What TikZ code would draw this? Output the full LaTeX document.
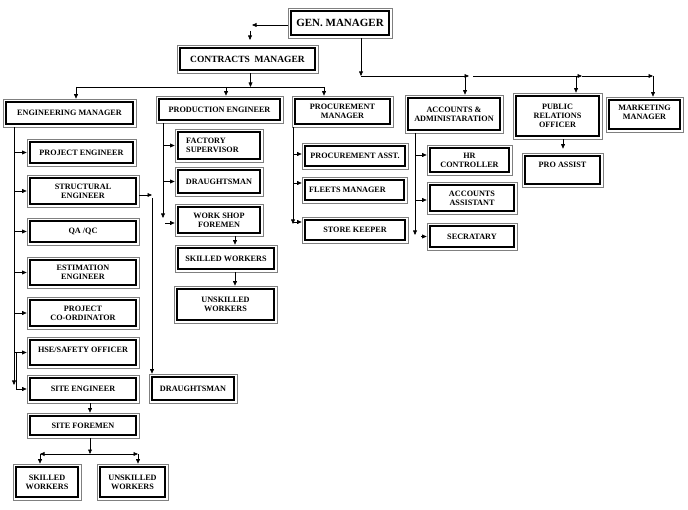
\documentclass[tikz,border=0pt]{standalone}
\usepackage{fontspec}
\setmainfont{Liberation Serif}
\usetikzlibrary{arrows.meta}
\tikzset{
 ebox/.style={draw=black!50, line width=0.6pt, fill=white, inner sep=0pt,
   path picture={\draw[draw=black, line width=2.5pt] ([shift={(2.8pt,2.8pt)}]path picture bounding box.south west) rectangle ([shift={(-2.8pt,-2.8pt)}]path picture bounding box.north east);}},
 lbl/.style={font=\fontsize{8.2}{9}\selectfont\bfseries, align=center, inner sep=0pt},
 arr/.style={-{Triangle[length=4.5pt,width=3.8pt]}, line width=0.7pt},
 ln/.style={line width=0.7pt}
}
\newcommand\obox[7][]{%
 \node[ebox, minimum width={(#5-#3)*1pt}, minimum height={(#6-#4)*1pt}] (#2) at ({(#3+#5)/2},{(#4+#6)/2}) {};
 \node[lbl,#1] (#2-t) at (#2.center) {#7};}
\begin{document}
\begin{tikzpicture}[x=1pt,y=-1pt]
\fill[white] (0,0) rectangle (688,510);
\useasboundingbox (0,0) rectangle (688,510);
% boxes
\obox[font=\fontsize{11}{13}\selectfont\bfseries]{GM}{288}{8}{392}{38}{GEN. MANAGER}
\obox[font=\fontsize{9.5}{11}\selectfont\bfseries]{CM}{177}{45}{318}{73}{CONTRACTS\ \ MANAGER}
\obox{EM}{3}{99}{136}{127}{ENGINEERING MANAGER}
\obox{PE}{156}{96}{283}{123}{PRODUCTION ENGINEER}
\obox{PM}{292}{96}{393}{127}{PROCUREMENT\\MANAGER}
\obox{AA}{405}{95}{503}{133}{ACCOUNTS \&\\ADMINISTARATION}
\obox{PR}{513}{93}{602}{139}{PUBLIC\\RELATIONS\\OFFICER}
\obox[yshift=2pt]{MM}{606}{97}{683}{132}{MARKETING\\MANAGER}
\obox{PJ}{27}{139}{136}{166}{PROJECT ENGINEER}
\obox{ST}{27}{175}{139}{207}{STRUCTURAL\\ENGINEER}
\obox{QA}{27}{218}{139}{245}{QA /QC}
\obox{ES}{27}{257}{139}{288}{ESTIMATION\\ENGINEER}
\obox{PC}{27}{297}{139}{329}{PROJECT\\CO-ORDINATOR}
\obox[yshift=3pt]{HSE}{27}{337}{139}{368}{HSE/SAFETY OFFICER}
\obox{SE}{27}{375}{139}{403}{SITE ENGINEER}
\obox{SF}{27}{413}{139}{438}{SITE FOREMEN}
\obox{SW}{13}{464}{81}{500}{SKILLED\\WORKERS}
\obox{UW}{97}{464}{168}{500}{UNSKILLED\\WORKERS}
\obox{DRB}{149}{374}{237}{403}{DRAUGHTSMAN}
\obox[align=left,xshift=-6.5pt]{FS}{175}{129}{263}{162}{FACTORY\\SUPERVISOR}
\obox{DR}{175}{167}{263}{196}{DRAUGHTSMAN}
\obox{WS}{175}{204}{263}{236}{WORK SHOP\\FOREMEN}
\obox{SK}{175}{245}{277}{272}{SKILLED WORKERS}
\obox{UN}{174}{286}{277}{323}{UNSKILLED\\WORKERS}
\obox{PA}{302}{143}{408}{169}{PROCUREMENT ASST.}
\obox[xshift=-7pt]{FM}{302}{177}{407}{203}{FLEETS MANAGER}
\obox{SKP}{302}{217}{408}{243}{STORE KEEPER}
\obox{HR}{427}{145}{512}{175}{HR\\CONTROLLER}
\obox{AS}{427}{182}{517}{214}{ACCOUNTS\\ASSISTANT}
\obox{SEC}{427}{223}{517}{250}{SECRATARY}
\obox[yshift=5pt]{PRA}{522}{153}{603}{187}{PRO ASSIST}
% GM to CM
\coordinate (a1) at (252,25);
\draw[arr] (GM.west |- a1) -- (a1);
\coordinate (a2) at (250,31);
\coordinate (a3) at (250,40);
\draw[arr] (a2) -- (a3);
% CM to row
\coordinate (b1) at (250.5,87);
\draw[arr] (b1 |- CM.south) -- (b1);
\coordinate (bL) at (76,87);
\coordinate (bM) at (226,87);
\coordinate (bR) at (324,87);
\draw[ln] (bL) -- (bR);
\draw[arr] (bL) -- (bL |- EM.north);
\draw[arr] (bM) -- (bM |- PE.north);
\draw[arr] (bR) -- (bR |- PM.north);
% GM right branch
\coordinate (g1) at (361,76);
\coordinate (g2) at (469,76);
\coordinate (g3) at (473,76);
\coordinate (g4) at (582,76);
\coordinate (g5) at (653,76);
\coordinate (g6) at (465,76);
\coordinate (g7) at (576,76);
\draw[arr] (g1 |- GM.south) -- (g1);
\draw[arr] (g1) -- (g2);
\draw[arr] (g3) -- (g4);
\draw[arr] (g4) -- (g5);
\draw[arr] (g6) -- (g6 |- AA.north);
\draw[arr] (g7) -- (g7 |- PR.north);
\draw[arr] (g5) -- (g5 |- MM.north);
% Engineering manager children
\coordinate (e0) at (14,0);
\coordinate (e2) at (16.5,0);
\draw[arr] (e0 |- EM.south) -- ([yshift=4pt]e0 |- SE.west);
\foreach \n in {PJ,ST,QA,ES,PC,HSE}{\draw[arr] (e0 |- \n.west) -- (\n.west);}
\draw[arr] (e2 |- HSE.west) -- (e2 |- SE.west) -- (SE.west);
% structural to draughtsman
\coordinate (s1) at (152,195);
\coordinate (s2) at (152,198);
\draw[arr] (ST.east |- s1) -- (s1);
\draw[arr] (s2) -- (s2 |- DRB.north);
% production engineer children
\coordinate (p0) at (163,0);
\coordinate (p1) at (165,0);
\draw[arr] (p0 |- PE.south) -- ([yshift=2pt]p0 |- WS.west);
\foreach \n in {FS,DR}{\draw[arr] (p0 |- \n.west) -- (\n.west);}
\draw[arr] ([yshift=-3pt]p1 |- WS.west) -- ([yshift=-3pt]WS.west);
\coordinate (w0) at (235,0);
\draw[arr] (w0 |- WS.south) -- (w0 |- SK.north);
\draw[arr] (w0 |- SK.south) -- (w0 |- UN.north);
% procurement children
\coordinate (m0) at (293,0);
\draw[arr] (m0 |- PM.south) -- ([yshift=6pt]m0 |- SKP.west);
\foreach \n/\s in {PA/2,FM/7,SKP/8}{\draw[arr] ([yshift=\s pt]m0 |- \n.west) -- ([yshift=\s pt]\n.west);}
% accounts children
\coordinate (k0) at (415,0);
\coordinate (k1) at (421,0);
\draw[arr] (k0 |- AA.south) -- ([yshift=1.5pt]k0 |- SEC.west);
\foreach \n/\s in {HR/5,AS/-2}{\draw[arr] ([yshift=\s pt]k0 |- \n.west) -- ([yshift=\s pt]\n.west);}
\draw[arr] (k1 |- SEC.west) -- (SEC.west);
% PRO
\coordinate (r0) at (563,0);
\draw[arr] (r0 |- PR.south) -- ([yshift=4pt]r0 |- PRA.north);
% site engineer chain
\coordinate (t0) at (90,0);
\coordinate (t1) at (90,454);
\coordinate (tl) at (40,454);
\coordinate (tr) at (138,454);
\draw[arr] (t0 |- SE.south) -- (t0 |- SF.north);
\draw[arr] (t0 |- SF.south) -- (t1);
\draw[arr] (t1) -- (tl);
\draw[arr] (t1) -- (tr);
\draw[arr] (tl) -- (tl |- SW.north);
\draw[arr] (tr) -- (tr |- UW.north);
\end{tikzpicture}
\end{document}
